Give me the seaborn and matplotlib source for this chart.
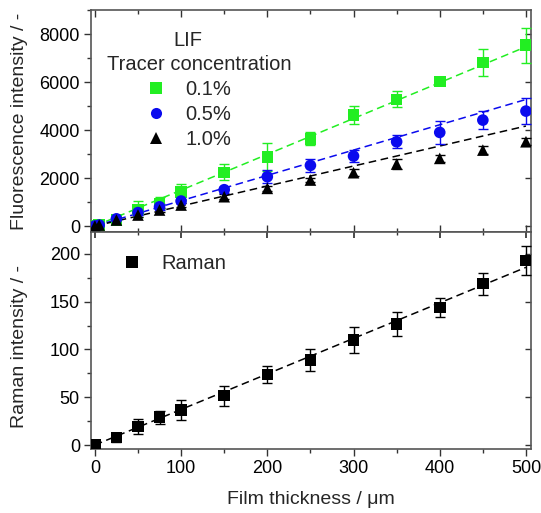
import numpy as np
import pandas as pd
import matplotlib
matplotlib.use("Agg")
import matplotlib.pyplot as plt
import seaborn as sns
from matplotlib.ticker import MultipleLocator
from matplotlib.lines import Line2D

# ---------------- data ----------------
lif_x = [0, 5, 25, 50, 75, 100, 150, 200, 250, 300, 350, 400, 450, 500]
lif_01 = [0, 40, 250, 695, 946, 1420, 2240, 2890, 3645, 4646, 5290, 6037, 6830, 7554]
lif_01_err = [40, 40, 120, 330, 245, 350, 330, 580, 270, 380, 340, 100, 550, 730]
lif_05 = [0, 40, 300, 560, 800, 1043, 1516, 2059, 2532, 2921, 3519, 3909, 4423, 4799]
lif_05_err = [40, 40, 100, 120, 120, 100, 120, 265, 260, 245, 265, 490, 380, 535]
lif_10 = [0, 40, 250, 459, 668, 876, 1224, 1572, 1920, 2226, 2587, 2824, 3171, 3519]
lif_10_err = [40, 40, 80, 80, 100, 100, 100, 100, 100, 150, 200, 150, 150, 150]
lif_labels = ["0.1%", "0.5%", "1.0%"]
lif_slopes = [14.97, 10.57, 8.35]

raman_x = [0, 25, 50, 75, 100, 150, 200, 250, 300, 350, 400, 450, 500]
raman_y = [0, 7.7, 19.2, 29, 36.6, 51.7, 74, 89.3, 110, 127, 143.8, 169, 193]
raman_err = [1.5, 4.5, 7.5, 7, 10, 10.5, 9, 11.5, 14, 12.5, 10, 11.5, 15]
raman_slope = 0.372

fit_x = [0, 500]

# ---------------- style ----------------
sns.set_theme(style="ticks")
plt.rcParams["font.family"] = ["Liberation Sans", "DejaVu Sans"]

fig = plt.figure(figsize=(5.41, 5.13), dpi=100)
L, R = 91 / 541, 530.7 / 541
ax1 = fig.add_axes([L, 1 - 232 / 513, R - L, (232 - 10.5) / 513])
ax2 = fig.add_axes([L, 1 - 449.3 / 513, R - L, (449.3 - 232) / 513])

colors = ["#22ee22", "#0a0aee", "black"]
markers = ["s", "o", "^"]
series = [(lif_01, lif_01_err), (lif_05, lif_05_err), (lif_10, lif_10_err)]

for (vals, errs), c, m, lab, slope in zip(series, colors, markers, lif_labels, lif_slopes):
    df = pd.DataFrame({"x": fit_x, "y": [slope * v for v in fit_x]})
    sns.lineplot(data=df, x="x", y="y", ax=ax1, color=c, lw=1.1,
                 linestyle=(0, (5, 3)), legend=False, zorder=2)
    ax1.errorbar(lif_x, vals, yerr=errs, fmt="none", ecolor=c, elinewidth=1.0,
                 capsize=3.5, capthick=1.0, zorder=3)
    d = pd.DataFrame({"x": lif_x, "y": vals})
    sns.scatterplot(data=d, x="x", y="y", ax=ax1, color=c, marker=m, s=70,
                    edgecolor="none", legend=False, zorder=4)

df = pd.DataFrame({"x": fit_x, "y": [raman_slope * v for v in fit_x]})
sns.lineplot(data=df, x="x", y="y", ax=ax2, color="black", lw=1.1,
             linestyle=(0, (5, 3)), legend=False, zorder=2)
ax2.errorbar(raman_x, raman_y, yerr=raman_err, fmt="none", ecolor="black",
             elinewidth=1.0, capsize=3.5, capthick=1.0, zorder=3)
sns.scatterplot(data=pd.DataFrame({"x": raman_x, "y": raman_y}), x="x", y="y",
                ax=ax2, color="black", marker="s", s=70, edgecolor="none",
                legend=False, zorder=4)

# axes limits / ticks
for ax in (ax1, ax2):
    ax.set_xlim(-4.5, 505.5)
    ax.xaxis.set_major_locator(MultipleLocator(100))
    ax.xaxis.set_minor_locator(MultipleLocator(50))
    for s in ax.spines.values():
        s.set_color("#555555")
        s.set_linewidth(1.2)
    ax.tick_params(which="both", colors="#333333", labelcolor="black", labelsize=13)
    ax.tick_params(which="major", length=5, width=1, pad=3)
    ax.tick_params(which="minor", length=3, width=1)
    ax.set_xlabel("")
    ax.set_ylabel("")

ax1.set_ylim(-250, 9000)
ax1.yaxis.set_major_locator(MultipleLocator(2000))
ax1.yaxis.set_minor_locator(MultipleLocator(1000))
ax1.tick_params(axis="x", which="both", direction="in", top=True, bottom=True, labelbottom=False)
ax1.tick_params(axis="y", which="both", direction="out", left=True, right=False)

ax2.set_ylim(-4.5, 223)
ax2.yaxis.set_major_locator(MultipleLocator(50))
ax2.yaxis.set_minor_locator(MultipleLocator(25))
ax2.tick_params(axis="x", which="both", direction="out", bottom=True, top=False)
ax2.tick_params(axis="y", which="both", direction="out", left=True, right=False)

# inward ticks on right and top
for ax in (ax1, ax2):
    sec = ax.secondary_yaxis("right")
    sec.set_yticks(ax.get_yticks(minor=False))
    sec.tick_params(direction="in", length=4, width=1, labelright=False, colors="#333333")
    sec.spines["right"].set_visible(False)
sec2 = ax2.secondary_xaxis("top")
sec2.xaxis.set_major_locator(MultipleLocator(100))
sec2.xaxis.set_minor_locator(MultipleLocator(50))
sec2.tick_params(which="both", direction="in", labeltop=False, colors="#333333")
sec2.tick_params(which="major", length=4)
sec2.tick_params(which="minor", length=2.5)
sec2.spines["top"].set_visible(False)

ax2.set_xlabel("Film thickness / μm", fontsize=14, labelpad=10)
fig.text(20 / 541, (1 - 232 / 513 + 1 - 10.5 / 513) / 2, "Fluorescence intensity / -",
         rotation=90, ha="center", va="center", fontsize=14)
fig.text(20 / 541, 1 - 346 / 513, "Raman intensity / -",
         rotation=90, ha="center", va="center", fontsize=14)

# legends
fig.text(188 / 541, 1 - 40 / 513, "LIF", ha="center", va="center", fontsize=14.5)
fig.text(199 / 541, 1 - 64 / 513, "Tracer concentration", ha="center", va="center", fontsize=14.5)
handles = [Line2D([], [], ls="none", marker=m, color=c, markersize=8, markeredgewidth=0)
           for m, c in zip(markers, colors)]
ax1.legend(handles, lif_labels, loc="upper left", bbox_to_anchor=(144 / 541, 1 - 80 / 513),
           bbox_transform=fig.transFigure, frameon=False, fontsize=14.5, borderaxespad=0,
           handletextpad=0.85, labelspacing=0.3, borderpad=0, handlelength=1.2)
h2 = [Line2D([], [], ls="none", marker="s", color="black", markersize=8, markeredgewidth=0)]
ax2.legend(h2, ["Raman"], loc="upper left", bbox_to_anchor=(120 / 541, 1 - 254 / 513),
           bbox_transform=fig.transFigure, frameon=False, fontsize=14.5, borderaxespad=0,
           handletextpad=0.85, borderpad=0, handlelength=1.2)

fig.savefig("out.png", dpi=100)
